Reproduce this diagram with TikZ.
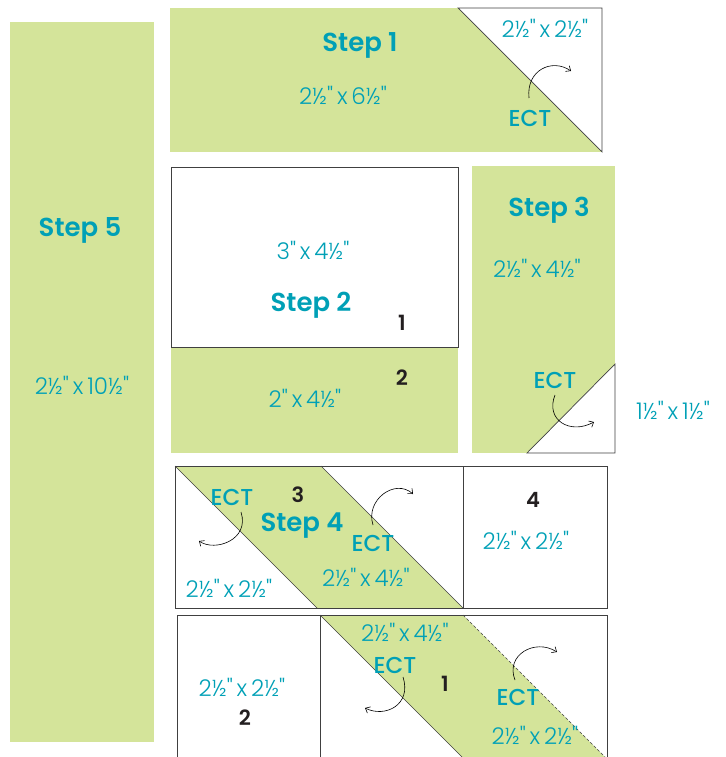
\documentclass[tikz,border=0pt]{standalone}
\usepackage{fontspec}
\setmainfont{Poppins}
\IfFontExistsTF{Poppins Light}{\newfontfamily\dimfont{Poppins Light}}{\newfontfamily\dimfont{Poppins}}
\IfFontExistsTF{Poppins Medium}{\newfontfamily\ectfont{Poppins Medium}}{\newfontfamily\ectfont{Poppins}}
\IfFontExistsTF{Poppins SemiBold}{\newfontfamily\stepfont{Poppins SemiBold}}{\newfontfamily\stepfont{Poppins}[FakeBold=1.5]}
\usetikzlibrary{arrows.meta}
\definecolor{quiltgreen}{RGB}{212,228,154}
\definecolor{quiltteal}{RGB}{0,160,182}
\definecolor{quiltdark}{RGB}{35,31,32}

\begin{document}
\begin{tikzpicture}[
        x=1pt, y=-1pt,
        patch/.style={fill=quiltgreen, draw=none},
        seam/.style={draw=black!75, line width=0.7pt},
        steplabel/.style={font=\stepfont\fontsize{26}{28}\selectfont, text=quiltteal, inner sep=0pt},
        dimlabel/.style={font=\dimfont\fontsize{23}{25}\selectfont, text=quiltteal, inner sep=0pt},
        ectlabel/.style={font=\ectfont\fontsize{23}{25}\selectfont, text=quiltteal, inner sep=0pt},
        numlabel/.style={font=\stepfont\fontsize{21}{23}\selectfont, text=quiltdark, inner sep=0pt},
        flip/.style={-{Straight Barb[length=4pt, width=7pt]}, line width=0.6pt, draw=black}
    ]
    \useasboundingbox (0,0) rectangle (725,757);
    \clip (0,0) rectangle (725,757);

    % Step 5 strip
    \fill[patch] (10,22) rectangle (154,742);

    % Step 1
    \fill[patch] (170,8) rectangle (602,152);
    \filldraw[fill=white, seam] (458,8) -- (602,8) -- (602,152) -- cycle;

    % Step 2
    \fill[patch] (171,347) rectangle (458,453);
    \filldraw[fill=white, seam] (171,167) rectangle (458,347);

    % Step 3
    \fill[patch] (472,166) rectangle (615,453);
    \filldraw[fill=white, seam] (615,364) -- (615,453) -- (527,453) -- cycle;

    % Step 4 row
    \fill[patch] (175,466) -- (321,466) -- (463,608) -- (317,608) -- cycle;
    \draw[seam] (175,466) -- (317,608);
    \draw[seam] (321,466) -- (463,608);
    \draw[seam] (175,466) rectangle (463,608);
    \draw[seam] (463,466) rectangle (607,608);

    % Bottom row
    \fill[patch] (320,615) -- (463,615) -- (610,762) -- (467,762) -- cycle;
    \draw[seam] (320,615) -- (467,762);
    \draw[seam, densely dashed, line width=0.5pt] (463,615) -- (610,762);
    \draw[seam] (177,762) -- (177,615) -- (607,615) -- (607,762);
    \draw[seam] (320,615) -- (320,762);

    % Labels
    \node[steplabel] (s5) at (80,230) {Step 5};
    \node[dimlabel] (s5dim) at (82,385) {2½"\,x\,10½"};

    \node[steplabel] (s1) at (360,45) {Step 1};
    \node[dimlabel] (s1dim) at (343,95) {2½"\,x\,6½"};
    \node[dimlabel] (s1tri) at (545,28) {2½"\,x\,2½"};
    \node[ectlabel] (s1ect) at (530,118) {ECT};

    \node[dimlabel] (s2top) at (313,250) {3"\,x\,4½"};
    \node[steplabel] (s2) at (311,305) {Step 2};
    \node[numlabel] (s2one) at (402,323) {1};
    \node[numlabel] (s2two) at (402,378) {2};
    \node[dimlabel] (s2bot) at (305,398) {2"\,x\,4½"};

    \node[steplabel] (s3) at (549,210) {Step 3};
    \node[dimlabel] (s3dim) at (537,268) {2½"\,x\,4½"};
    \node[ectlabel] (s3ect) at (555,380) {ECT};
    \node[dimlabel] (s3tri) at (673,410) {1½"\,x\,1½"};

    \node[ectlabel] (s4ecta) at (232,497) {ECT};
    \node[numlabel] (s4three) at (298,495) {3};
    \node[steplabel] (s4) at (302,526) {Step 4};
    \node[ectlabel] (s4ectb) at (373,543) {ECT};
    \node[dimlabel] (s4dim) at (366,577) {2½"\,x\,4½"};
    \node[dimlabel] (s4left) at (229,588) {2½"\,x\,2½"};
    \node[numlabel] (s4four) at (533,500) {4};
    \node[dimlabel] (s4right) at (526,540) {2½"\,x\,2½"};

    \node[dimlabel] (b1dim) at (405,632) {2½"\,x\,4½"};
    \node[ectlabel] (b1ecta) at (395,665) {ECT};
    \node[numlabel] (b1one) at (445,684) {1};
    \node[ectlabel] (b1ectb) at (518,697) {ECT};
    \node[dimlabel] (b1tri) at (535,735) {2½"\,x\,2½"};
    \node[dimlabel] (b2dim) at (242,687) {2½"\,x\,2½"};
    \node[numlabel] (b2two) at (245,718) {2};

    % Flip arrows
    \draw[flip] (529,98) .. controls (526,70) and (552,58) .. (571,71);
    \draw[flip] (555,395) .. controls (545,420) and (570,435) .. (594,422);
    \draw[flip] (241,512) .. controls (250,540) and (215,552) .. (199,541);
    \draw[flip] (373,525) .. controls (365,500) and (395,478) .. (413,494);
    \draw[flip] (403,677) .. controls (412,705) and (385,718) .. (365,708);
    \draw[flip] (515,680) .. controls (505,655) and (535,638) .. (557,652);

\end{tikzpicture}
\end{document}
